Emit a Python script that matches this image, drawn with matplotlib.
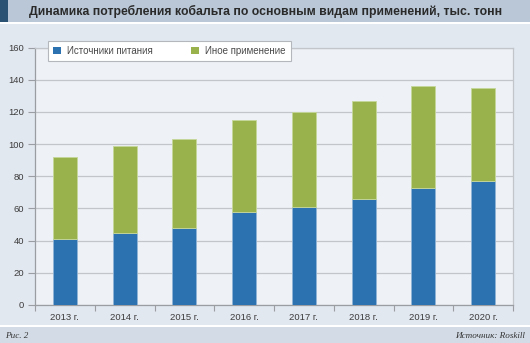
import numpy as np
import matplotlib
matplotlib.use("Agg")
import matplotlib.pyplot as plt
from matplotlib.patches import Rectangle

# --- данные (тыс. тонн) ---
years = ["2013 г.", "2014 г.", "2015 г.", "2016 г.", "2017 г.", "2018 г.", "2019 г.", "2020 г."]
batteries = [41, 45, 48, 58, 61, 66, 73, 77]
totals = [92, 99, 103, 115, 120, 127, 136, 135]
other = [t - b for t, b in zip(totals, batteries)]

series_names = ["Источники питания", "Иное применение"]
yticks = [0, 20, 40, 60, 80, 100, 120, 140, 160]

TITLE = "Динамика потребления кобальта по основным видам применений, тыс. тонн"

# --- цвета ---
C_BLUE = "#2c71b0"
C_GREEN = "#9ab24c"
C_BODY = "#e2e8f0"
C_PLOT = "#eef2f6"
C_HEAD = "#b9c7d7"
C_STRIP = "#2b5272"
C_FOOT = "#d3dce6"
C_GRID = "#c2c6cb"
C_TEXT = "#3c3c3c"

W, H = 530, 343
plt.rcParams["font.family"] = ["Liberation Sans", "DejaVu Sans"]

fig = plt.figure(figsize=(W / 100, H / 100), dpi=100)
fig.patch.set_facecolor(C_BODY)


def px_rect(x, y, w, h, color):
    # прямоугольник в пикселях, отсчёт сверху
    fig.patches.append(Rectangle((x / W, 1 - (y + h) / H), w / W, h / H,
                                 transform=fig.transFigure, facecolor=color,
                                 edgecolor="none", zorder=0))


# шапка и подвал
px_rect(0, 0, W, 22, C_HEAD)
px_rect(0, 0, 8, 22, C_STRIP)
px_rect(0, 22, W, 2, "white")
px_rect(0, 325, W, 2, "white")
px_rect(0, 327, W, 16, C_FOOT)

fig.text(29 / W, 1 - 11.5 / H, TITLE, ha="left", va="center",
         fontsize=8.8, fontweight="bold", color="#2a2a2a")
fig.text(5 / W, 1 - 335.5 / H, "Рис. 2", ha="left", va="center",
         fontsize=6.6, style="italic", family=["Liberation Serif", "DejaVu Serif"],
         color="#333333")
fig.text(525 / W, 1 - 335.5 / H, "Источник: Roskill", ha="right", va="center",
         fontsize=6.6, style="italic", family=["Liberation Serif", "DejaVu Serif"],
         color="#333333")

# область графика
left, right, top, bottom = 35, 513, 47.5, 305
ax = fig.add_axes([left / W, 1 - bottom / H, (right - left) / W, (bottom - top) / H])
ax.set_facecolor(C_PLOT)

x = np.arange(len(years))
bw = 0.4
b1 = ax.bar(x, batteries, bw, color=C_BLUE, edgecolor="#8fb4d6",
            linewidth=0.6, label=series_names[0], zorder=3)
b2 = ax.bar(x, other, bw, bottom=batteries, color=C_GREEN, edgecolor="#c6d89a",
            linewidth=0.6, label=series_names[1], zorder=3)

ax.set_xlim(-0.5, len(years) - 0.5)
ax.set_ylim(0, 160)
ax.set_yticks(yticks)
ax.set_yticklabels([str(v) for v in yticks])
ax.yaxis.grid(True, color=C_GRID, linewidth=0.9, zorder=1)
ax.set_axisbelow(True)

ax.set_xticks(x)
ax.set_xticklabels(years)
ax.set_xticks(np.arange(-0.5, len(years), 1), minor=True)
ax.tick_params(axis="x", which="major", length=0, pad=5.5, labelsize=6.8, labelcolor=C_TEXT)
ax.tick_params(axis="x", which="minor", length=4, width=0.8, color="#9a9ea3", direction="out")
ax.tick_params(axis="y", length=5, width=0.8, color="#9a9ea3", pad=3,
               labelsize=6.8, labelcolor=C_TEXT)

for side in ("left", "bottom"):
    ax.spines[side].set_color("#9a9ea3")
    ax.spines[side].set_linewidth(0.9)
for side in ("top", "right"):
    ax.spines[side].set_color(C_GRID)
    ax.spines[side].set_linewidth(0.9)

leg = ax.legend(handles=[b1, b2], loc="upper left",
                bbox_to_anchor=(48 / W, 1 - 40.5 / H), bbox_transform=fig.transFigure,
                ncol=2, frameon=True, fancybox=False, edgecolor="#b4b8bd",
                facecolor="white", framealpha=1, fontsize=7.0,
                handlelength=0.8, handleheight=0.8, handletextpad=0.65,
                columnspacing=3.9, borderpad=0.55, borderaxespad=0)
leg.get_frame().set_linewidth(0.8)
for t in leg.get_texts():
    t.set_color("#4a4a4a")
for h in leg.legend_handles:
    h.set_edgecolor("none")
leg.set_zorder(5)

fig.savefig("out.png", dpi=100, facecolor=fig.get_facecolor())
